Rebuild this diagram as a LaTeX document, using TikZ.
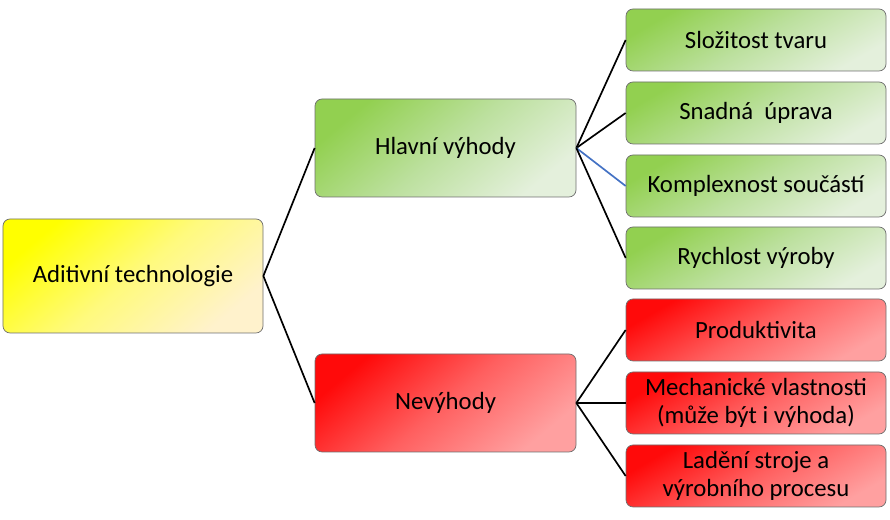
\documentclass[tikz,border=0pt]{standalone}
\usepackage{fontspec}
\setmainfont{Carlito}
\usepackage{xcolor}
\usepackage{tikz}
\usetikzlibrary{positioning}

\definecolor{yelA}{RGB}{255,255,0}
\definecolor{yelM}{RGB}{255,250,125}
\definecolor{yelB}{RGB}{255,242,204}
\definecolor{grnA}{RGB}{146,208,80}
\definecolor{grnM}{RGB}{188,224,158}
\definecolor{grnB}{RGB}{228,240,220}
\definecolor{redA}{RGB}{255,10,10}
\definecolor{redM}{RGB}{255,95,95}
\definecolor{redB}{RGB}{255,160,160}
\definecolor{edgegray}{RGB}{110,110,110}
\definecolor{linkblue}{RGB}{68,114,196}

\begin{document}
\begin{tikzpicture}[
    font=\fontsize{17.6}{20}\selectfont,
    box/.style={rectangle, rounded corners=5pt, draw=edgegray, line width=0.5pt, align=center, inner sep=2pt},
    rootbox/.style={box, minimum width=6.5cm, minimum height=2.85cm, top color=yelA, bottom color=yelB, middle color=yelM, shading angle=40},
    probox/.style={box, minimum width=6.525cm, minimum height=2.45cm, top color=grnA, bottom color=grnB, middle color=grnM, shading angle=40},
    conbox/.style={box, minimum width=6.525cm, minimum height=2.45cm, top color=redA, bottom color=redB, middle color=redM, shading angle=40},
    proleaf/.style={box, minimum width=6.5cm, minimum height=1.55cm, top color=grnA, bottom color=grnB, middle color=grnM, shading angle=30},
    conleaf/.style={box, minimum width=6.5cm, minimum height=1.55cm, top color=redA, bottom color=redB, middle color=redM, shading angle=30},
    link/.style={draw=black, line width=1.2pt}
]
\useasboundingbox (0,0) rectangle (22.25,13);

% Root
\node[rootbox] (root) at (3.325, 6.1) {Aditivní technologie};

% Branches
\node[probox] (pros) at (11.1375, 9.3) {Hlavní výhody};
\node[conbox] (cons) at (11.1375, 2.925) {Nevýhody};

% Advantages
\node[proleaf] (p1) at (18.9, 12.0) {Složitost tvaru};
\node[proleaf] (p2) at (18.9, 10.175) {Snadná~ úprava};
\node[proleaf] (p3) at (18.9, 8.35) {Komplexnost součástí};
\node[proleaf] (p4) at (18.9, 6.55) {Rychlost výroby};

% Disadvantages
\node[conleaf] (c1) at (18.9, 4.75) {Produktivita};
\node[conleaf] (c2) at (18.9, 2.925) {Mechanické vlastnosti\\(může být i výhoda)};
\node[conleaf] (c3) at (18.9, 1.1) {Ladění stroje a\\výrobního procesu};

% Connectors
\draw[link] (root.east) -- (pros.west);
\draw[link] (root.east) -- (cons.west);
\draw[link] (pros.east) -- (p1.west);
\draw[link] (pros.east) -- (p2.west);
\draw[link, draw=linkblue] (pros.east) -- (p3.west);
\draw[link] (pros.east) -- (p4.west);
\draw[link] (cons.east) -- (c1.west);
\draw[link] (cons.east) -- (c2.west);
\draw[link] (cons.east) -- (c3.west);

\end{tikzpicture}
\end{document}
